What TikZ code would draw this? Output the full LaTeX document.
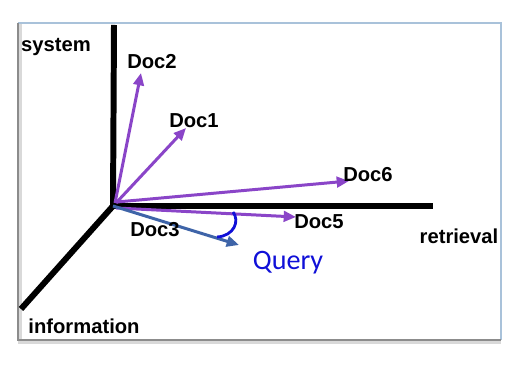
\documentclass[tikz,border=0pt]{standalone}
\usepackage{fontspec}
\setmainfont{Liberation Sans}
\newfontfamily\queryfont{Carlito}
\usetikzlibrary{arrows.meta}
\definecolor{docpurple}{HTML}{8A45C8}
\definecolor{qblue}{HTML}{3E64A8}
\definecolor{arcblue}{HTML}{1010D8}
\definecolor{framegray}{HTML}{8C8C8C}
\definecolor{frameblue}{HTML}{A9C2DA}
\tikzset{
  axis/.style={line width=3.4pt, black},
  docvec/.style={line width=1.7pt, docpurple, -{Triangle[length=7pt,width=6pt]}},
  qvec/.style={line width=1.7pt, qblue, -{Triangle[length=7pt,width=6pt]}},
  axlabel/.style={font=\bfseries\fontsize{11.5}{13}\selectfont, inner sep=0pt},
  doclabel/.style={font=\bfseries\fontsize{11.5}{13}\selectfont, inner sep=0pt},
}
\begin{document}
\begin{tikzpicture}[x=0.02cm, y=-0.02cm]
  \useasboundingbox (0,0) rectangle (529,374);
  \fill[white] (0,0) rectangle (529,374);

  % framed panel with a soft shadow on the left and bottom
  \draw[line width=2.4pt, black!15] (20,24) -- (20,342) -- (501,342);
  \draw[line width=0.8pt, frameblue] (18,23) -- (501,23) -- (501,340);
  \draw[line width=1.1pt, framegray] (18,23) -- (18,340) -- (501,340);

  % axes
  \coordinate (O) at (113,206);
  \coordinate (sysend) at (114,25);
  \coordinate (retend) at (433,206);
  \coordinate (infend) at (21,309);
  \draw[axis] (O) -- (sysend);
  \draw[axis] (O) -- (retend);
  \draw[axis, line cap=butt] (O) -- (infend);

  \node[axlabel] (system) at (56,47) {system};
  \node[axlabel] (retrieval) at (459,236) {retrieval};
  \node[axlabel] (information) at (84,326) {information};

  % document vectors
  \coordinate (d2) at (141,73);
  \coordinate (d1) at (186,128);
  \coordinate (d6) at (349,181);
  \coordinate (d5) at (296,217);
  \coordinate (q) at (239,245);
  \draw[docvec] (115,203) -- (d2);
  \draw[docvec] (116,203) -- (d1);
  \draw[docvec] (117,202) -- (d6);
  \draw[docvec] (116,208) -- (d5);
  \draw[qvec] (O) -- (q);

  \node[doclabel] (doc2) at (152,62) {Doc2};
  \node[doclabel] (doc1) at (194,121) {Doc1};
  \node[doclabel] (doc6) at (368,175) {Doc6};
  \node[doclabel] (doc5) at (319,222) {Doc5};
  \node[doclabel] (doc3) at (155,230) {Doc3};
  \node[font=\queryfont\fontsize{16}{18}\selectfont, text=arcblue, inner sep=0pt] (query) at (288,263) {Query};

  % angle between the query and Doc5
  \coordinate (arcA) at (233,212);
  \coordinate (arcB) at (217,237);
  \draw[arcblue, line width=1.6pt] (arcA) .. controls (240,221) and (234,236) .. (arcB);
\end{tikzpicture}
\end{document}
